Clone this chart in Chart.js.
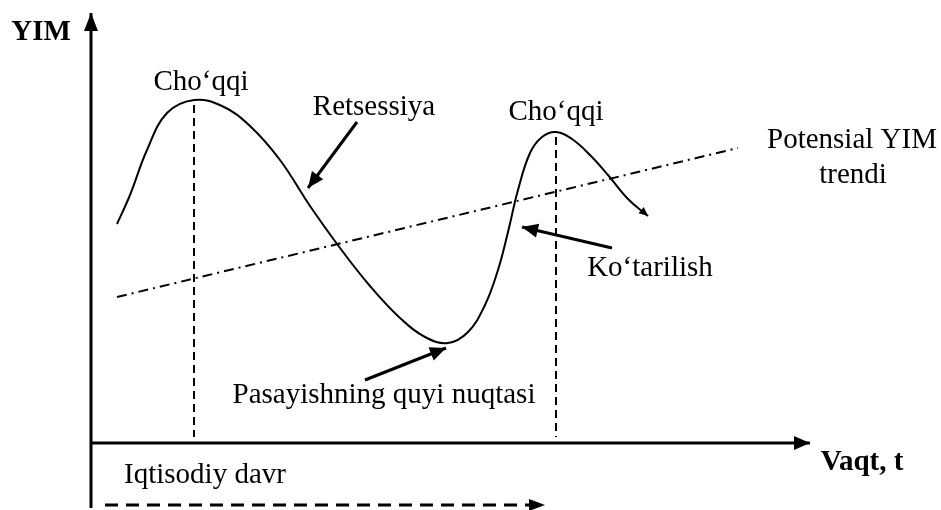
<!DOCTYPE html>
<html>
<head>
<meta charset="utf-8">
<script src="https://cdn.jsdelivr.net/npm/chart.js@4"></script>
<style>
  html, body { margin: 0; padding: 0; background: #fff; }
  #wrap { width: 941px; height: 510px; }
</style>
</head>
<body>
<div id="wrap"><canvas id="chart" width="941" height="510"></canvas></div>
<script>
// Iqtisodiy davr: vaqt (t) va YIM, shartli birliklarda
const cycleT = [2.6, 3.9, 5.6, 7.6, 10.3, 13.1, 15.9, 18.9, 21.9, 24.9, 27.9, 30.9, 33.4, 35.7, 37.7, 39.4, 40.7, 41.7, 42.7, 43.9, 45.1, 46.5, 48.1, 49.9, 51.7, 53.7, 55.7];
const cycleY = [21.9, 24.8, 29.3, 33.0, 34.3, 33.7, 31.7, 28.3, 23.7, 19.5, 15.7, 12.5, 10.6, 10.0, 11.1, 13.8, 17.3, 21.1, 25.3, 29.0, 30.6, 31.1, 30.4, 28.8, 26.8, 24.4, 22.7];

// Potensial YIM trendi
const trendT = [2.6, 64.7];
const trendY = [14.6, 29.5];

// cho'qqilar (vertikal uzuq chiziqlar)
const peakT = [10.3, 46.5];
const peakTop = [33.8, 30.6];
const peakBottom = 0.6;

// o'qlar
const axisYT = [0, 0];
const axisYY = [-6.5, 43.0];
const axisXT = [0, 71.9];
const axisXY = [0, 0];

// davr strelkasi
const periodT = [1.4, 45.4];
const periodY = [-6.2, -6.2];

// izoh strelkalari
const noteArrows = [
  { t: [26.6, 21.7], y: [32.1, 25.5] }, // Retsessiya
  { t: [52.1, 43.1], y: [19.5, 21.6] }, // Ko'tarilish
  { t: [27.4, 35.5], y: [6.3, 9.5] }    // Pasayishning quyi nuqtasi
];

// matnlar
const labelText = ['YIM', 'Cho\u2018qqi', 'Retsessiya', 'Cho\u2018qqi', 'Potensial YIM', 'trendi', 'Ko\u2018tarilish', 'Pasayishning quyi nuqtasi', 'Iqtisodiy davr', 'Vaqt, t'];
const labelT = [-5.0, 11.0, 28.3, 46.5, 76.1, 76.2, 55.9, 29.3, 11.4, 77.1];
const labelY = [41.0, 36.1, 33.6, 33.1, 30.3, 26.8, 17.5, 4.8, -3.2, -2.0];
const labelBold = [true, false, false, false, false, false, false, false, false, true];

const pts = (xs, ys) => xs.map((x, i) => ({ x: x, y: ys[i] }));

const base = { showLine: true, pointRadius: 0, borderColor: '#000', backgroundColor: '#000', fill: false };

const datasets = [
  Object.assign({}, base, { data: pts(cycleT, cycleY), borderWidth: 2, tension: 0.4, arrow: { len: 9, half: 4 } }),
  Object.assign({}, base, { data: pts(trendT, trendY), borderWidth: 2, borderDash: [10, 5, 2, 5] }),
  Object.assign({}, base, { data: pts(axisYT, axisYY), borderWidth: 3, arrow: { len: 18, half: 7 } }),
  Object.assign({}, base, { data: pts(axisXT, axisXY), borderWidth: 3, arrow: { len: 16, half: 7 } }),
  Object.assign({}, base, { data: pts(periodT, periodY), borderWidth: 3, borderDash: [13, 8], arrow: { len: 16, half: 6 } })
];
peakT.forEach((t, i) => {
  datasets.push(Object.assign({}, base, { data: pts([t, t], [peakTop[i], peakBottom]), borderWidth: 2, borderDash: [8, 5] }));
});
noteArrows.forEach(a => {
  datasets.push(Object.assign({}, base, { data: pts(a.t, a.y), borderWidth: 3, arrow: { len: 16, half: 7 } }));
});

// strelka uchlari
const arrowHeads = {
  id: 'arrowHeads',
  afterDatasetsDraw(chart) {
    const ctx = chart.ctx;
    chart.data.datasets.forEach((ds, i) => {
      if (!ds.arrow) return;
      const els = chart.getDatasetMeta(i).data;
      const a = els[els.length - 2], b = els[els.length - 1];
      const ang = Math.atan2(b.y - a.y, b.x - a.x);
      const { len, half } = ds.arrow;
      ctx.save();
      ctx.translate(b.x, b.y);
      ctx.rotate(ang);
      ctx.beginPath();
      ctx.moveTo(0, 0);
      ctx.lineTo(-len, -half);
      ctx.lineTo(-len, half);
      ctx.closePath();
      ctx.fillStyle = '#000';
      ctx.fill();
      ctx.restore();
    });
  }
};

// matnlar
const textLabels = {
  id: 'textLabels',
  afterDraw(chart) {
    const ctx = chart.ctx;
    const xs = chart.scales.x, ys = chart.scales.y;
    ctx.save();
    ctx.fillStyle = '#000';
    ctx.textAlign = 'center';
    ctx.textBaseline = 'middle';
    labelText.forEach((txt, i) => {
      ctx.font = (labelBold[i] ? 'bold ' : '') + '29px "Liberation Serif", "Times New Roman", serif';
      ctx.fillText(txt, xs.getPixelForValue(labelT[i]), ys.getPixelForValue(labelY[i]));
    });
    ctx.restore();
  }
};

new Chart(document.getElementById('chart'), {
  type: 'scatter',
  data: { datasets: datasets },
  options: {
    responsive: false,
    animation: false,
    layout: { padding: 0 },
    plugins: { legend: { display: false }, tooltip: { enabled: false } },
    scales: {
      x: { type: 'linear', min: -9.1, max: 85, display: false },
      y: { type: 'linear', min: -6.7, max: 44.3, display: false }
    }
  },
  plugins: [arrowHeads, textLabels]
});
</script>
</body>
</html>
